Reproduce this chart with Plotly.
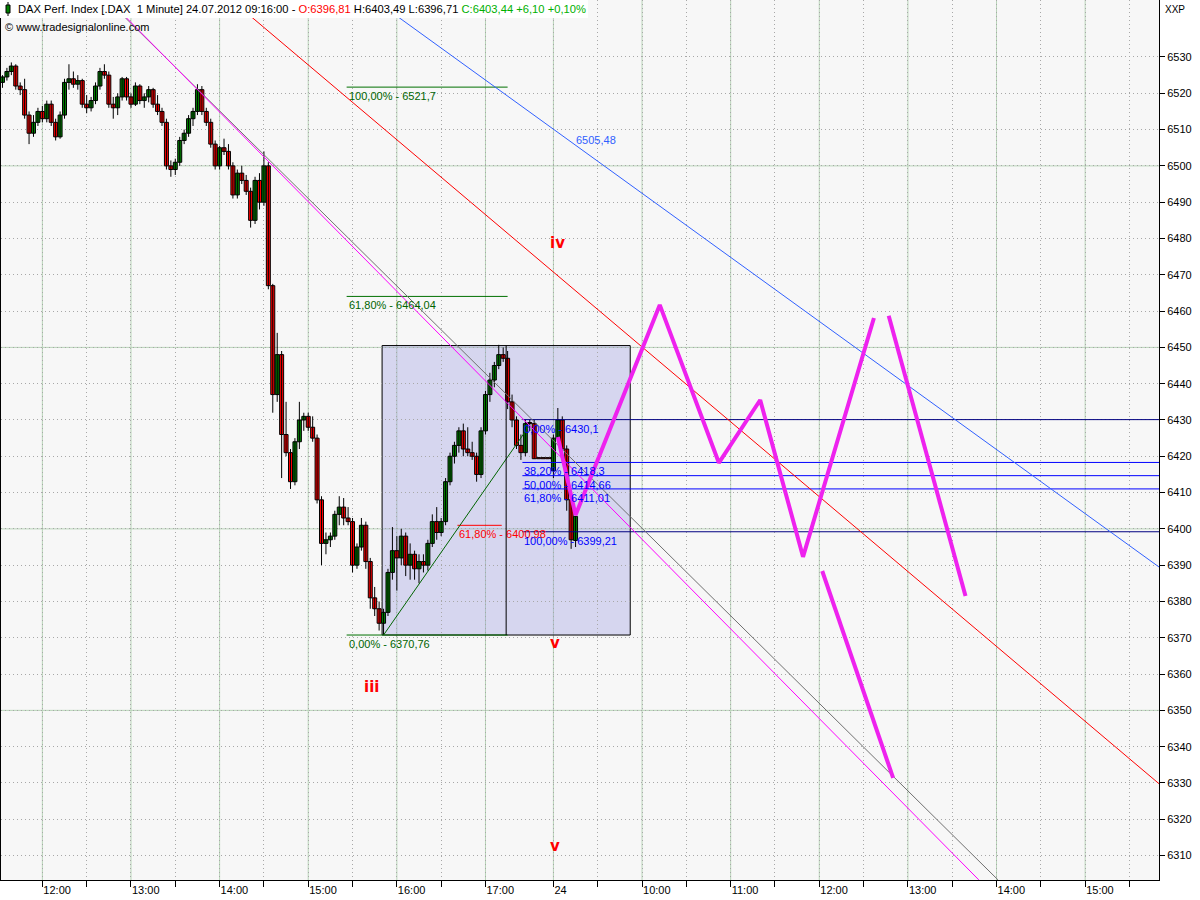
import plotly.graph_objects as go

# ---------------- data ----------------
# 23.07.2012, 3-minute bars starting 11:33
DAY1_FIRST_BAR = "11:33"
BAR_MINUTES = 3
day1_open = [6523, 6524.5, 6526, 6527.5, 6522, 6521, 6514, 6509, 6512, 6515,
             6513, 6517, 6512, 6508, 6514, 6523, 6524, 6522.5, 6523.5, 6517,
             6516, 6518, 6522, 6526, 6525, 6517, 6516, 6519, 6524, 6519,
             6517, 6522, 6518, 6519, 6521, 6517, 6515, 6512, 6500, 6499,
             6501, 6507, 6509, 6513, 6515, 6521, 6515, 6512, 6506, 6500,
             6505, 6504, 6500, 6492, 6498, 6496, 6493, 6485, 6496, 6490,
             6500, 6467, 6437, 6448, 6426, 6421, 6413, 6424, 6430, 6431,
             6428, 6425, 6408, 6396, 6397, 6398, 6404, 6406, 6403, 6402,
             6390, 6395, 6401, 6391, 6381, 6378, 6374, 6377, 6388, 6394,
             6392, 6398, 6390, 6393, 6389, 6391, 6390, 6396, 6402, 6399,
             6402, 6413, 6420, 6423, 6427, 6422, 6421, 6420, 6415, 6427,
             6437, 6441, 6445, 6448, 6447, 6435, 6430, 6423, 6421, 6429,
             6429, 6419.33, 6419.33, 6419.33, 6419.33]
day1_high = [6525, 6527, 6528.5, 6528, 6523, 6524, 6515, 6514, 6516, 6516.5,
             6518, 6518, 6513, 6515, 6524, 6528, 6526, 6525, 6524, 6519.5,
             6519, 6523, 6527, 6528, 6526, 6519, 6520, 6524.5, 6524.5, 6520,
             6523, 6522.5, 6520, 6522, 6521.5, 6519.5, 6516, 6513, 6501.5, 6502,
             6508, 6510, 6514, 6516, 6522.5, 6522, 6516, 6513, 6507, 6505.5,
             6507.5, 6506, 6501, 6499, 6500, 6497.5, 6494, 6497, 6498, 6504,
             6501, 6467.5, 6454, 6449, 6435, 6422, 6425, 6435, 6432, 6432,
             6431, 6426, 6409, 6399, 6399, 6405, 6409, 6408.5, 6406, 6403,
             6396, 6403, 6402, 6392, 6384, 6380, 6378, 6389, 6400.5, 6398,
             6400, 6399, 6396, 6394, 6393, 6393, 6397, 6404, 6406, 6403,
             6414, 6421, 6424, 6428, 6429, 6428, 6424, 6421, 6428, 6438,
             6443, 6446, 6450.7, 6450, 6449, 6437, 6431, 6426, 6430, 6430,
             6430, 6419.33, 6419.33, 6419.33, 6419.33]
day1_low = [6521.5, 6523.5, 6525, 6521, 6519.5, 6513, 6506, 6508, 6511, 6512,
            6512, 6511, 6507, 6507.5, 6513, 6521, 6521.5, 6521, 6516, 6514.5,
            6515, 6517, 6521, 6524, 6516, 6513, 6514, 6518, 6518, 6516,
            6516.5, 6517, 6516, 6517.5, 6516, 6514, 6511, 6499, 6497, 6497.5,
            6500, 6506, 6508, 6511, 6514, 6514, 6511, 6505, 6499, 6499,
            6503, 6499, 6491, 6491, 6495, 6492, 6483, 6484, 6488, 6489,
            6466, 6432, 6435, 6414, 6420, 6411, 6412, 6422, 6427, 6427,
            6424, 6407, 6390, 6393, 6395, 6397, 6401, 6401, 6401, 6388,
            6389, 6394, 6389, 6378, 6376, 6372, 6370.76, 6376, 6386, 6383,
            6390, 6387, 6386, 6386, 6385, 6388, 6388.5, 6395, 6397, 6398,
            6401, 6412, 6418, 6421, 6420, 6420, 6419, 6413, 6414, 6426,
            6435, 6439, 6444, 6446, 6433, 6428, 6422, 6419, 6420, 6427,
            6419.33, 6419.33, 6419.33, 6419.33, 6419.33]
day1_close = [6524.5, 6526, 6527.5, 6522, 6521, 6514, 6509, 6512, 6515, 6513,
              6517, 6512, 6508, 6514, 6523, 6524, 6522.5, 6523.5, 6517, 6516,
              6518, 6522, 6526, 6525, 6517, 6516, 6519, 6524, 6519, 6517,
              6522, 6518, 6519, 6521, 6517, 6515, 6512, 6500, 6499, 6501,
              6507, 6509, 6513, 6515, 6521, 6515, 6512, 6506, 6500, 6505,
              6504, 6500, 6492, 6498, 6496, 6493, 6485, 6496, 6490, 6500,
              6467, 6437, 6448, 6426, 6421, 6413, 6424, 6430, 6431, 6428,
              6425, 6408, 6396, 6397, 6398, 6404, 6406, 6403, 6402, 6390,
              6395, 6401, 6391, 6381, 6378, 6374, 6377, 6388, 6394, 6392,
              6398, 6390, 6393, 6389, 6391, 6390, 6396, 6402, 6399, 6402,
              6413, 6420, 6423, 6427, 6422, 6421, 6420, 6415, 6427, 6437,
              6441, 6445, 6448, 6447, 6435, 6430, 6423, 6421, 6429, 6429,
              6419.33, 6419.33, 6419.33, 6419.33, 6419.33]

# 24.07.2012, 3-minute bars starting 09:00
DAY2_FIRST_BAR = "09:00"
day2_open = [6416, 6425, 6430, 6422, 6408, 6396.81]
day2_high = [6426, 6433.3, 6431, 6423, 6409, 6403.49]
day2_low = [6414, 6424, 6420, 6405, 6394.5, 6395]
day2_close = [6425, 6430, 6422, 6408, 6397, 6403.44]

# time axis ticks (day, time, label)
x_ticks = [(23, "12:00", "12:00"), (23, "12:30", ""), (23, "13:00", "13:00"), (23, "13:30", ""),
           (23, "14:00", "14:00"), (23, "14:30", ""), (23, "15:00", "15:00"), (23, "15:30", ""),
           (23, "16:00", "16:00"), (23, "16:30", ""), (23, "17:00", "17:00"),
           (24, "09:00", "24"), (24, "09:30", ""), (24, "10:00", "10:00"), (24, "10:30", ""),
           (24, "11:00", "11:00"), (24, "11:30", ""), (24, "12:00", "12:00"), (24, "12:30", ""),
           (24, "13:00", "13:00"), (24, "13:30", ""), (24, "14:00", "14:00"), (24, "14:30", ""),
           (24, "15:00", "15:00"), (24, "15:30", "")]
y_ticks = [6310, 6320, 6330, 6340, 6350, 6360, 6370, 6380, 6390, 6400, 6410, 6420,
           6430, 6440, 6450, 6460, 6470, 6480, 6490, 6500, 6510, 6520, 6530]
y_major_grid = [6350, 6400, 6450, 6500]

# trend lines: (day, time, price) endpoints
trend_grey = [(23, "12:44", 6545.7), (24, "14:01", 6303.3)]
trend_magenta = [(23, "12:45", 6545.7), (24, "13:48", 6303.3)]
trend_red = [(23, "14:08", 6545.7), (24, "15:50", 6329.8)]
trend_blue = [(23, "15:45", 6545.7), (24, "15:50", 6389.5)]
blue_line_label = ((24, "09:14"), 6507.1, "6505,48")

# Fibonacci retracement (green) levels and labels
fib_green_levels = [6521.7, 6464.04, 6370.76]
fib_green_labels = ["100,00% - 6521,7", "61,80% - 6464,04", "0,00% - 6370,76"]
fib_green_span = [(23, "15:26"), (23, "17:15")]
fib_red_level = 6400.98
fib_red_label = "61,80% - 6400,98"
fib_red_span = [(23, "16:41"), (23, "17:11")]
fib_diag = [(23, "15:51", 6370.76), (23, "17:29", 6428.0)]

# box and vertical marker
box_time = [(23, "15:50"), (24, "09:52")]
box_price = [6370.76, 6450.5]
vline_time = (23, "17:14")

# Fibonacci retracement (blue), last swing
fib_blue_levels = [6430.1, 6418.3, 6414.66, 6411.01, 6399.21]
fib_blue_labels = ["0,00% - 6430,1", "38,20% - 6418,3", "50,00% - 6414,66",
                   "61,80% - 6411,01", "100,00% - 6399,21"]
fib_blue_span = [(23, "17:25"), (24, "15:56")]

# projected path (thick magenta)
proj_main = [(24, "09:03", 6425.3), (24, "09:15", 6403.8), (24, "10:12", 6461.7),
             (24, "10:52", 6418.2), (24, "11:20", 6435.5), (24, "11:49", 6392.3),
             (24, "12:37", 6458.1)]
proj_b = [(24, "12:47", 6458.7), (24, "13:39", 6381.5)]
proj_c = [(24, "12:02", 6388.4), (24, "12:50", 6331.4)]

# Elliott wave labels
wave_labels = [((24, "09:03"), 6478.8, "iv"), ((24, "09:01"), 6368.6, "v"),
               ((23, "15:43"), 6356.4, "iii"), ((24, "09:01"), 6312.6, "v")]

X_RANGE = [(23, "11:32"), (24, "15:50")]
Y_RANGE = [6303.27, 6545.70]


# ---------------- helpers ----------------
def tmin(hhmm):
    h, m = hhmm.split(":")
    return int(h) * 60 + int(m)


def pos(day, hhmm):
    """Compressed intraday axis: minutes from 12:00 on 23.07,
    24.07 09:00 follows directly after the 17:45 end of 23.07."""
    t = tmin(hhmm)
    if day == 23:
        return t - 720
    return 346 + (t - 540)


def series_x(day, first, n):
    return [pos(day, first) + BAR_MINUTES * i for i in range(n)]


xs = series_x(23, DAY1_FIRST_BAR, len(day1_open)) + series_x(24, DAY2_FIRST_BAR, len(day2_open))
O = day1_open + day2_open
H = day1_high + day2_high
L = day1_low + day2_low
C = day1_close + day2_close

FONT = "Liberation Sans"
fig = go.Figure()

# wicks
wx, wy = [], []
for x, h, l in zip(xs, H, L):
    wx += [x, x, None]
    wy += [l, h, None]
fig.add_trace(go.Scatter(x=wx, y=wy, mode="lines", line=dict(color="black", width=1),
                         hoverinfo="skip"))
# bodies
base = [min(o, c) for o, c in zip(O, C)]
height = [max(abs(c - o), 0.3) for o, c in zip(O, C)]
cols = ["#008000" if c > o else "#ff0000" for o, c in zip(O, C)]
fig.add_trace(go.Bar(x=xs, y=height, base=base, width=2.7,
                     marker=dict(color=cols, line=dict(color="black", width=1)),
                     hoverinfo="skip"))


def seg(points, color, width, dash=None):
    fig.add_trace(go.Scatter(x=[pos(d, t) for d, t, p in points], y=[p for d, t, p in points],
                             mode="lines", line=dict(color=color, width=width, dash=dash),
                             hoverinfo="skip"))


# green fib
gx0, gx1 = pos(*fib_green_span[0]), pos(*fib_green_span[1])
for lev in fib_green_levels:
    fig.add_trace(go.Scatter(x=[gx0, gx1], y=[lev, lev], mode="lines",
                             line=dict(color="#007000", width=1), hoverinfo="skip"))
rx0, rx1 = pos(*fib_red_span[0]), pos(*fib_red_span[1])
fig.add_trace(go.Scatter(x=[rx0, rx1], y=[fib_red_level] * 2, mode="lines",
                         line=dict(color="#ff0000", width=1), hoverinfo="skip"))
seg(fib_diag, "#006400", 1)

# vertical marker
vx = pos(*vline_time)
fig.add_trace(go.Scatter(x=[vx, vx], y=box_price, mode="lines",
                         line=dict(color="black", width=1), hoverinfo="skip"))

# blue fib
bx0, bx1 = pos(*fib_blue_span[0]), pos(*fib_blue_span[1])
for i, lev in enumerate(fib_blue_levels):
    col = "#000080" if i in (0, len(fib_blue_levels) - 1) else "#0000ff"
    fig.add_trace(go.Scatter(x=[bx0, bx1], y=[lev, lev], mode="lines",
                             line=dict(color=col, width=1), hoverinfo="skip"))

# trend lines
seg(trend_grey, "#707070", 1)
seg(trend_magenta, "#ff00ff", 1)
seg(trend_red, "#ff0000", 1)
seg(trend_blue, "#3060ff", 1)

# projection
for p in (proj_main, proj_b, proj_c):
    seg(p, "#ee22ee", 4)

# ---------------- shapes ----------------
shapes = []
shapes.append(dict(type="rect", xref="x", yref="y", x0=pos(*box_time[0]), x1=pos(*box_time[1]),
                   y0=box_price[0], y1=box_price[1], fillcolor="rgba(150,150,225,0.33)",
                   line=dict(color="black", width=1), layer="below"))
for d, t, lab in x_ticks:
    if lab:
        shapes.append(dict(type="line", xref="x", yref="paper", x0=pos(d, t), x1=pos(d, t),
                           y0=0, y1=1, line=dict(color="#b8d4b8", width=1), layer="between"))
for v in y_major_grid:
    shapes.append(dict(type="line", xref="paper", yref="y", x0=0, x1=1, y0=v, y1=v,
                       line=dict(color="#b8d4b8", width=1), layer="between"))

W, HH = 1158.0, 880.0


def px(xp):
    return (xp - 1) / W


def py(yp):
    return (HH - yp) / HH


# title box
shapes.append(dict(type="rect", xref="paper", yref="paper", x0=px(0), x1=px(588), y0=py(18), y1=py(-2),
                   fillcolor="white", line=dict(width=0), layer="above"))
shapes.append(dict(type="line", xref="paper", yref="paper", x0=px(8), x1=px(8), y0=py(16), y1=py(2),
                   line=dict(color="black", width=1), layer="above"))
shapes.append(dict(type="rect", xref="paper", yref="paper", x0=px(6), x1=px(10), y0=py(13), y1=py(5),
                   fillcolor="#008000", line=dict(color="black", width=1), layer="above"))

# ---------------- annotations ----------------
ann = []
title = ("DAX Perf. Index [.DAX\u00a0 1 Minute] 24.07.2012 09:16:00 - "
         "<span style='color:#ff0000'>O:6396,81</span> H:6403,49 L:6396,71 "
         "<span style='color:#00b000'>C:6403,44 +6,10 +0,10%</span>")
ann.append(dict(xref="paper", yref="paper", x=px(16), y=py(9), text=title, showarrow=False,
                xanchor="left", yanchor="middle", font=dict(family=FONT, size=11.2, color="black")))
ann.append(dict(xref="paper", yref="paper", x=px(3), y=py(27), text="\u00a9 www.tradesignalonline.com",
                showarrow=False, xanchor="left", yanchor="middle",
                font=dict(family=FONT, size=11, color="black")))
ann.append(dict(xref="paper", yref="paper", x=px(1163), y=py(9), text="XXP", showarrow=False,
                xanchor="left", yanchor="middle", font=dict(family=FONT, size=10, color="black")))

for lev, lab in zip(fib_green_levels, fib_green_labels):
    ann.append(dict(x=gx0, y=lev, text=lab, showarrow=False, xanchor="left", yanchor="top",
                    yshift=-1, font=dict(family=FONT, size=11, color="#006400")))
ann.append(dict(x=rx0, y=fib_red_level, text=fib_red_label, showarrow=False, xanchor="left",
                yanchor="top", yshift=-1, font=dict(family=FONT, size=11, color="#ff0000")))
for lev, lab in zip(fib_blue_levels, fib_blue_labels):
    ann.append(dict(x=bx0, y=lev, text=lab, showarrow=False, xanchor="left", yanchor="top",
                    yshift=-1, font=dict(family=FONT, size=11, color="#0000ff")))
(bd, bt), bp, btxt = blue_line_label
ann.append(dict(x=pos(bd, bt), y=bp, text=btxt, showarrow=False, xanchor="left", yanchor="middle",
                font=dict(family=FONT, size=11, color="#3060ff")))
for (d, t), p, lab in wave_labels:
    ann.append(dict(x=pos(d, t), y=p, text="<b>" + lab + "</b>", showarrow=False,
                    xanchor="center", yanchor="middle",
                    font=dict(family="DejaVu Sans", size=15, color="#ff0000")))

fig.update_layout(
    width=1200, height=900,
    margin=dict(l=1, r=41, t=0, b=20, autoexpand=False),
    paper_bgcolor="white", plot_bgcolor="#f7f7f7",
    showlegend=False, hovermode=False, barmode="overlay",
    shapes=shapes, annotations=ann,
    xaxis=dict(range=[pos(*X_RANGE[0]), pos(*X_RANGE[1])],
               tickmode="array", tickvals=[pos(d, t) for d, t, l in x_ticks],
               ticktext=[l for d, t, l in x_ticks],
               ticks="outside", ticklen=6, tickcolor="black", ticklabelposition="outside right",
               showgrid=True, gridcolor="#a8a8a8", griddash="1px,3px", gridwidth=1,
               showline=True, linecolor="black", linewidth=1, zeroline=False,
               tickfont=dict(family=FONT, size=11, color="black"), fixedrange=True),
    yaxis=dict(range=Y_RANGE, side="right", tickmode="array", tickvals=y_ticks,
               ticktext=[str(v) for v in y_ticks],
               ticks="outside", ticklen=5, tickcolor="black",
               showgrid=True, gridcolor="#a8a8a8", griddash="1px,3px", gridwidth=1,
               showline=True, mirror=True, linecolor="black", linewidth=1, zeroline=False,
               tickfont=dict(family=FONT, size=11, color="black"), fixedrange=True),
)

fig.write_html("out.html", config={"displayModeBar": False},
               post_script="document.body.style.margin='0px';")
